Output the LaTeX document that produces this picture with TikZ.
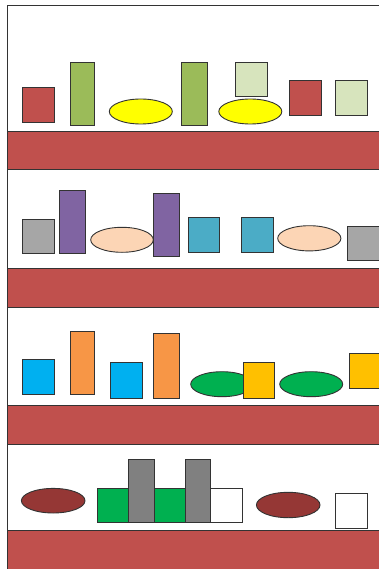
\documentclass[tikz,border=0pt]{standalone}
\definecolor{shelfred}{HTML}{C0504D}
\definecolor{oliveg}{HTML}{9BBB59}
\definecolor{paleg}{HTML}{D7E4BD}
\definecolor{yel}{HTML}{FFFF00}
\definecolor{gry}{HTML}{A6A6A6}
\definecolor{purp}{HTML}{8064A2}
\definecolor{peach}{HTML}{FCD5B5}
\definecolor{teal}{HTML}{4BACC6}
\definecolor{cyanb}{HTML}{00B0F0}
\definecolor{orng}{HTML}{F79646}
\definecolor{grn}{HTML}{00B050}
\definecolor{gold}{HTML}{FFC000}
\definecolor{dred}{HTML}{953735}
\definecolor{dgry}{HTML}{808080}
\definecolor{edge}{HTML}{333333}
\tikzset{
  obj/.style={draw=edge, line width=0.9pt},
  shelfbar/.style={fill=shelfred, draw=edge, line width=0.9pt},
}
\begin{document}
\begin{tikzpicture}[x=1pt,y=-1pt]
\useasboundingbox (0,0) rectangle (379,569);
\clip (0,0) rectangle (379,569);
\fill[white] (0,0) rectangle (379,569);
% frame
\draw[edge, line width=0.9pt] (7,569) -- (7,5) -- (385,5);
% shelves
\draw[shelfbar] (7,131) rectangle (385,169.5);
\draw[shelfbar] (7,268.3) rectangle (385,307);
\draw[shelfbar] (7,405.7) rectangle (385,444.7);
\draw[shelfbar] (7,530.7) rectangle (385,575);
% shelf 1
\draw[obj, fill=shelfred] (22.3,87.3) rectangle (54,122.3);
\draw[obj, fill=oliveg] (70,62) rectangle (94.7,125.3);
\draw[obj, fill=yel] (140.8,111.5) ellipse [x radius=31.5, y radius=12.5];
\draw[obj, fill=oliveg] (181.7,62) rectangle (207.7,125.3);
\draw[obj, fill=paleg] (235.3,62) rectangle (267.3,96.7);
\draw[obj, fill=yel] (250.3,111.5) ellipse [x radius=31.5, y radius=12.5];
\draw[obj, fill=shelfred] (289,80) rectangle (321,115);
\draw[obj, fill=paleg] (335.3,80) rectangle (367.3,115);
% shelf 2
\draw[obj, fill=gry] (22.3,219) rectangle (54,253.7);
\draw[obj, fill=purp] (59.7,190.7) rectangle (85.3,253.7);
\draw[obj, fill=peach] (122,239.8) ellipse [x radius=31.3, y radius=12.5];
\draw[obj, fill=purp] (153.3,193.3) rectangle (179.3,256.7);
\draw[obj, fill=teal] (188,217.7) rectangle (219.7,252);
\draw[obj, fill=teal] (241.3,217.7) rectangle (273,252);
\draw[obj, fill=peach] (309.3,238.3) ellipse [x radius=31.6, y radius=12.6];
\draw[obj, fill=gry] (347.3,226.7) rectangle (381,260.7);
% shelf 3
\draw[obj, fill=cyanb] (22.3,359.3) rectangle (54,394.3);
\draw[obj, fill=orng] (70,331) rectangle (94.7,394.3);
\draw[obj, fill=cyanb] (110.3,362.3) rectangle (142,398.7);
\draw[obj, fill=orng] (153.3,333.7) rectangle (179.3,398.7);
\draw[obj, fill=grn] (222,384.2) ellipse [x radius=31.3, y radius=12.5];
\draw[obj, fill=gold] (243,362) rectangle (274.7,398.7);
\draw[obj, fill=grn] (311.2,384.2) ellipse [x radius=31.5, y radius=12.5];
\draw[obj, fill=gold] (349,353) rectangle (381,388);
% shelf 4
\draw[obj, fill=dred] (53.2,500.7) ellipse [x radius=31.8, y radius=12.3];
\draw[obj, fill=grn] (97,488) rectangle (128.7,522.3);
\draw[obj, fill=dgry] (128.7,459.7) rectangle (154,522.3);
\draw[obj, fill=grn] (154,488) rectangle (185.3,522.3);
\draw[obj, fill=dgry] (185.3,459.7) rectangle (210.3,522.3);
\draw[obj, fill=white] (210.3,488) rectangle (242,522.3);
\draw[obj, fill=dred] (288.2,505) ellipse [x radius=31.8, y radius=12.7];
\draw[obj, fill=white] (335.3,493.7) rectangle (367.3,528.7);
\end{tikzpicture}
\end{document}
